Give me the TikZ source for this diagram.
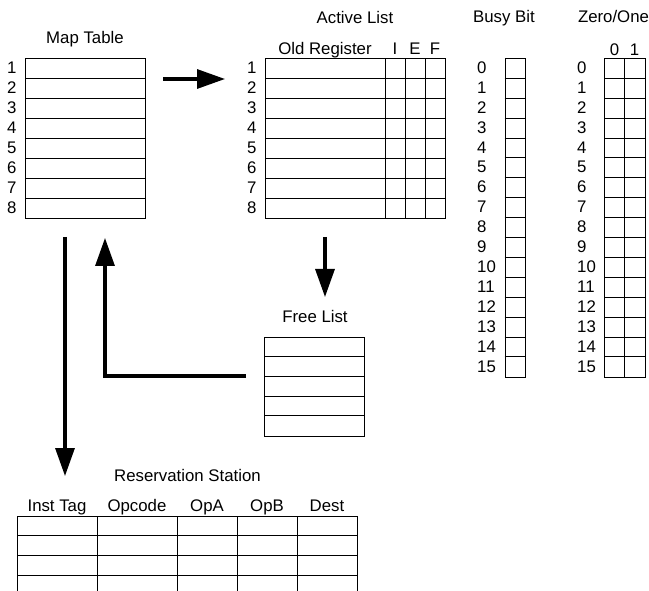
\documentclass[tikz,border=0pt]{standalone}
\usepackage{fontspec}
\setmainfont{Liberation Sans}
\usetikzlibrary{arrows.meta,positioning,calc}

\begin{document}
\begin{tikzpicture}[
    x=1pt, y=-1pt,
    font=\fontsize{16.8}{20}\selectfont,
    tbl/.style={rectangle, draw, line width=1pt, inner sep=0pt, anchor=north west},
    cell/.style={line width=1pt},
    num/.style={inner sep=0pt, anchor=base west},
    hdr/.style={inner sep=0pt, anchor=base},
    arrow/.style={line width=3.2pt, -{Triangle[length=28pt,width=19pt]}}
]
\useasboundingbox (0,0) rectangle (649,591);

% map table
\node[tbl, minimum width=120pt, minimum height=160pt] (map) at (25,58.5) {};
\foreach \i in {1,...,7} \draw[cell] ($(map.north west)+(0,20*\i)$) -- ++(120,0);
\foreach \i in {1,...,8} \node[num] (map-\i) at (7,{58.5+15+20*(\i-1)}) {\i};
\node[hdr] (maptitle) at (85,43.5) {Map Table};

% active list
\node[tbl, minimum width=180pt, minimum height=160pt] (active) at (265,58.5) {};
\foreach \i in {1,...,7} \draw[cell] ($(active.north west)+(0,20*\i)$) -- ++(180,0);
\foreach \x in {120,140,160} \draw[cell] ($(active.north west)+(\x,0)$) -- ++(0,160);
\foreach \i in {1,...,8} \node[num] (active-\i) at (247,{58.5+15+20*(\i-1)}) {\i};
\node[hdr] (activetitle) at (355,24) {Active List};
\node[hdr] (oldreg) at (325,54.3) {Old Register};
\node[hdr] (colI) at (395,54.3) {I};
\node[hdr] (colE) at (415,54.3) {E};
\node[hdr] (colF) at (435,54.3) {F};

% busy bit
\node[tbl, minimum width=20pt, minimum height=318.4pt] (busy) at (504.5,58.5) {};
\foreach \i in {1,...,15} \draw[cell] ($(busy.north west)+(0,19.9*\i)$) -- ++(20,0);
\foreach \i in {0,...,15} \node[num] (busy-\i) at (477,{58.5+15+19.9*\i}) {\i};
\node[hdr] (busytitle) at (504,23) {Busy Bit};

% zero/one
\node[tbl, minimum width=41pt, minimum height=318.4pt] (zeroone) at (604,58.5) {};
\foreach \i in {1,...,15} \draw[cell] ($(zeroone.north west)+(0,19.9*\i)$) -- ++(41,0);
\draw[cell] ($(zeroone.north west)+(20.5,0)$) -- ++(0,318.4);
\foreach \i in {0,...,15} \node[num] (zeroone-\i) at (577,{58.5+15+19.9*\i}) {\i};
\node[hdr] (zeroonetitle) at (613.5,23) {Zero/One};
\node[hdr] (col0) at (614.5,56) {0};
\node[hdr] (col1) at (634.5,56) {1};

% free list
\node[tbl, minimum width=100pt, minimum height=98.5pt] (free) at (264,337) {};
\foreach \i in {1,...,4} \draw[cell] ($(free.north west)+(0,19.7*\i)$) -- ++(100,0);
\node[hdr] (freetitle) at (315,322.7) {Free List};

% reservation station
\node[tbl, minimum width=340pt, minimum height=78.8pt] (rs) at (17,516) {};
\foreach \i in {1,...,3} \draw[cell] ($(rs.north west)+(0,19.7*\i)$) -- ++(340,0);
\foreach \x in {80,160,220,280} \draw[cell] ($(rs.north west)+(\x,0)$) -- ++(0,78.8);
\node[hdr] (rstitle) at (187.5,481.7) {Reservation Station};
\node[hdr] (insttag) at (57,511) {Inst Tag};
\node[hdr] (opcode) at (137,511) {Opcode};
\node[hdr] (opa) at (207,511) {OpA};
\node[hdr] (opb) at (267,511) {OpB};
\node[hdr] (dest) at (327,511) {Dest};

% arrows
\coordinate (mapout) at (163,79);
\coordinate (activein) at (225,79);
\coordinate (activeout) at (325,237);
\coordinate (freein) at (325,297);
\coordinate (freeout) at (246,376);
\coordinate (mapin) at (105,238);
\coordinate (mapdown) at (65,237);
\coordinate (rsin) at (65,476);

\draw[arrow] (mapout) -- (activein);
\draw[arrow] (activeout) -- (freein);
\draw[arrow] (freeout) -| (mapin);
\draw[arrow] (mapdown) -- (rsin);
\end{tikzpicture}
\end{document}
